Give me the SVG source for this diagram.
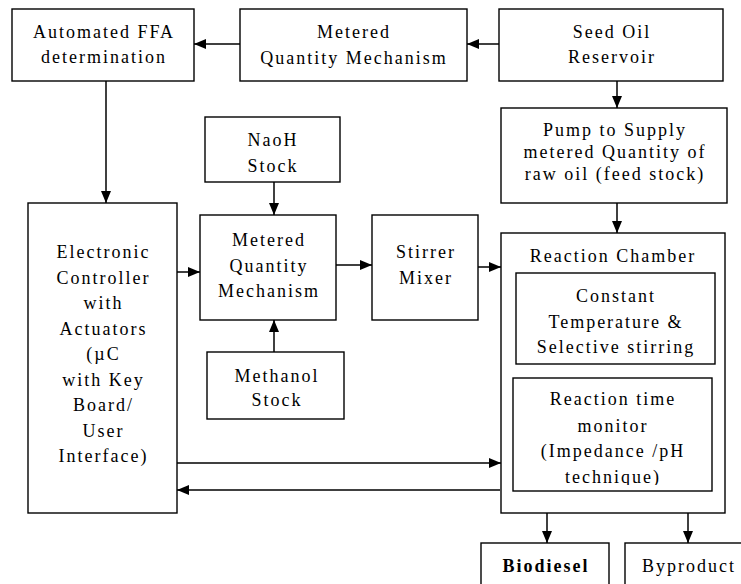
<svg xmlns="http://www.w3.org/2000/svg" width="741" height="584" viewBox="0 0 741 584">
<style>
.box{fill:#fff;stroke:#000;stroke-width:1.4}
.t{font-family:"Liberation Serif","Times New Roman",serif;font-size:18px;letter-spacing:2px;fill:#000;text-anchor:middle}
.b{font-weight:bold}
.c{fill:none;stroke:#000;stroke-width:1.5}
</style>
<defs>
<marker id="ah" markerUnits="userSpaceOnUse" markerWidth="12" markerHeight="10" refX="12" refY="5" orient="auto">
<path d="M0,0 L12,5 L0,10 z" fill="#000"/>
</marker>
<clipPath id="clipCT"><rect x="517" y="274" width="197" height="84"/></clipPath>
<clipPath id="clipRT"><rect x="514" y="379" width="197" height="106"/></clipPath>
</defs>
<rect width="741" height="584" fill="#fff"/>

<g id="ffa">
<rect class="box" x="12" y="9" width="182" height="72"/>
<text class="t" x="104" y="38">Automated FFA</text>
<text class="t" x="104" y="63">determination</text>
</g>
<g id="metered-top">
<rect class="box" x="240" y="9" width="227" height="72"/>
<text class="t" x="354" y="38">Metered</text>
<text class="t" x="354" y="64">Quantity Mechanism</text>
</g>
<g id="seed-oil">
<rect class="box" x="499" y="9" width="224" height="72"/>
<text class="t" x="612" y="38">Seed Oil</text>
<text class="t" x="612" y="63">Reservoir</text>
</g>
<g id="pump">
<rect class="box" x="501" y="108" width="226" height="95"/>
<text class="t" x="615" y="136">Pump to Supply</text>
<text class="t" x="615" y="158">metered Quantity of</text>
<text class="t" x="615" y="180">raw oil (feed stock)</text>
</g>
<g id="controller">
<rect class="box" x="28" y="203" width="149" height="310"/>
<text class="t" x="103.5" y="258">Electronic</text>
<text class="t" x="103.5" y="283.5">Controller</text>
<text class="t" x="103.5" y="309">with</text>
<text class="t" x="103.5" y="334.5">Actuators</text>
<text class="t" x="103.5" y="360">(µC</text>
<text class="t" x="103.5" y="385.5">with Key</text>
<text class="t" x="103.5" y="411">Board/</text>
<text class="t" x="103.5" y="436.5">User</text>
<text class="t" x="103.5" y="462">Interface)</text>
</g>
<g id="naoh">
<rect class="box" x="205" y="117" width="135" height="65"/>
<text class="t" x="273" y="146">NaoH</text>
<text class="t" x="273" y="172">Stock</text>
</g>
<g id="metered-mid">
<rect class="box" x="200" y="215" width="136" height="105"/>
<text class="t" x="269" y="246">Metered</text>
<text class="t" x="269" y="271.5">Quantity</text>
<text class="t" x="269" y="297">Mechanism</text>
</g>
<g id="methanol">
<rect class="box" x="207" y="352" width="137" height="67"/>
<text class="t" x="277" y="382">Methanol</text>
<text class="t" x="277" y="406">Stock</text>
</g>
<g id="stirrer">
<rect class="box" x="372" y="215" width="106" height="105"/>
<text class="t" x="426" y="258">Stirrer</text>
<text class="t" x="426" y="284">Mixer</text>
</g>
<g id="reaction-chamber">
<rect class="box" x="501" y="233" width="224" height="280"/>
<text class="t" x="613" y="262">Reaction Chamber</text>
<g id="constant-temp">
<rect class="box" x="516" y="273" width="199" height="91"/>
<g clip-path="url(#clipCT)">
<text class="t" x="616" y="302">Constant</text>
<text class="t" x="616" y="328">Temperature &amp;</text>
<text class="t" x="616" y="353">Selective stirring</text>
</g>
</g>
<g id="reaction-time">
<rect class="box" x="513" y="378" width="199" height="113"/>
<g clip-path="url(#clipRT)">
<text class="t" x="613" y="405">Reaction time</text>
<text class="t" x="613" y="432">monitor</text>
<text class="t" x="613" y="457">(Impedance /pH</text>
<text class="t" x="613" y="483">technique)</text>
</g>
</g>
</g>
<g id="biodiesel">
<rect class="box" x="481" y="543" width="128" height="60"/>
<text class="t b" x="546" y="572">Biodiesel</text>
</g>
<g id="byproduct">
<rect class="box" x="625" y="543" width="140" height="60"/>
<text class="t" x="689" y="572">Byproduct</text>
</g>

<g id="connectors">
<line class="c" x1="499" y1="44" x2="467" y2="44" marker-end="url(#ah)"/>
<line class="c" x1="240" y1="44" x2="194" y2="44" marker-end="url(#ah)"/>
<line class="c" x1="617" y1="81" x2="617" y2="108" marker-end="url(#ah)"/>
<line class="c" x1="617" y1="203" x2="617" y2="233" marker-end="url(#ah)"/>
<line class="c" x1="106" y1="81" x2="106" y2="203" marker-end="url(#ah)"/>
<line class="c" x1="177" y1="272" x2="200" y2="272" marker-end="url(#ah)"/>
<line class="c" x1="274" y1="182" x2="274" y2="215" marker-end="url(#ah)"/>
<line class="c" x1="274" y1="352" x2="274" y2="320" marker-end="url(#ah)"/>
<line class="c" x1="336" y1="265" x2="372" y2="265" marker-end="url(#ah)"/>
<line class="c" x1="478" y1="267" x2="501" y2="267" marker-end="url(#ah)"/>
<line class="c" x1="177" y1="463" x2="501" y2="463" marker-end="url(#ah)"/>
<line class="c" x1="500" y1="490" x2="177" y2="490" marker-end="url(#ah)"/>
<line class="c" x1="547" y1="513" x2="547" y2="543" marker-end="url(#ah)"/>
<line class="c" x1="688" y1="513" x2="688" y2="543" marker-end="url(#ah)"/>
</g>
</svg>
